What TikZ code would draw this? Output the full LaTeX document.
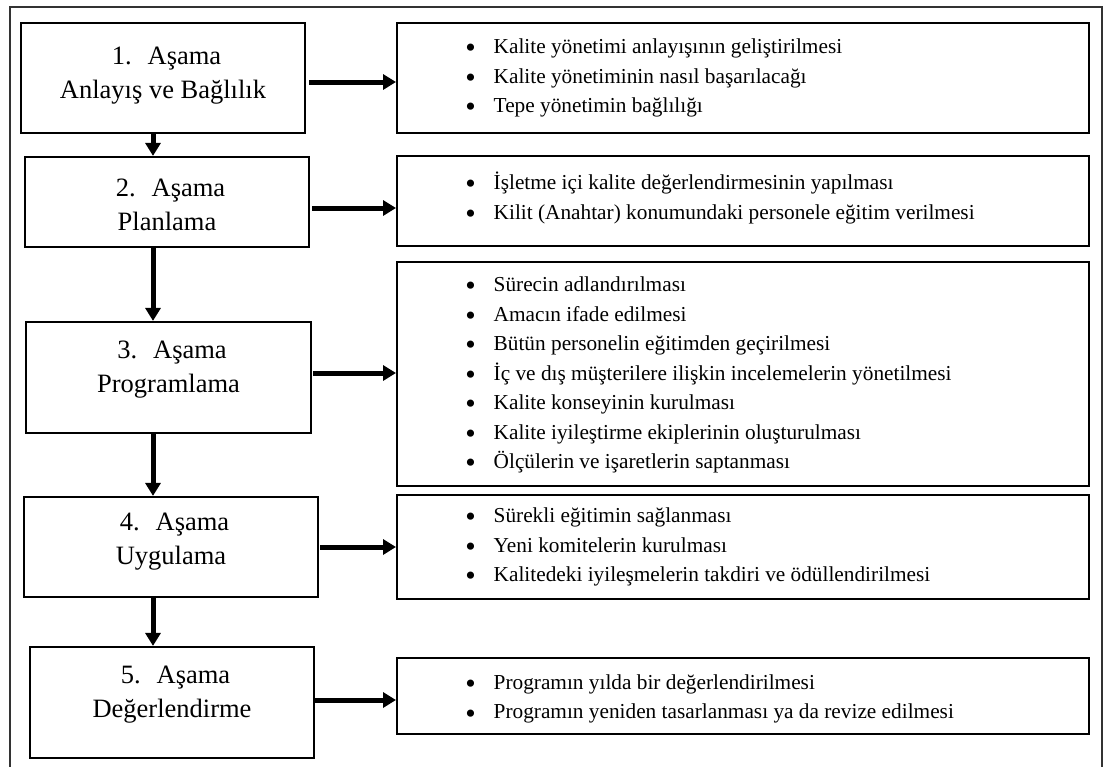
\documentclass[tikz,border=0pt]{standalone}
\usepackage{fontspec}
\setmainfont{Liberation Serif}
\usetikzlibrary{arrows.meta}
% list bullet: a slightly enlarged round dot followed by the text indent
\newcommand\itemdot{\makebox[27.5pt][l]{\hspace*{-0.8pt}\raisebox{-4.2pt}{\scalebox{1.4}{•}}}}
\begin{document}
\begin{tikzpicture}[x=1pt,y=-1pt,
  stagebox/.style={draw, line width=2.2pt, inner sep=0pt},
  stagetext/.style={align=center, inner sep=0pt,
    font=\fontsize{26.5}{34}\selectfont},
  listbox/.style={draw, line width=2pt, inner sep=0pt,
    minimum width=692pt},
  listtext/.style={align=left, anchor=west, inner sep=0pt,
    font=\fontsize{21.3}{29.5}\selectfont},
  flow/.style={line width=5pt, -{Triangle[length=13pt,width=15pt]}},
  frame/.style={draw=black!80, line width=1.5pt}]
\useasboundingbox (0,0) rectangle (1105,766);
\clip (0,0) rectangle (1105,766);
\fill[white] (0,0) rectangle (1105,766);

% outer frame (its lower edge runs past the page)
\draw[frame] (10,7) rectangle (1102,775);

% stage boxes
\node[stagebox, minimum width=284pt, minimum height=110pt] (b1) at (163,78) {};
\node[stagebox, minimum width=284pt, minimum height=90pt]  (b2) at (167,202) {};
\node[stagebox, minimum width=285pt, minimum height=111pt] (b3) at (168.5,377.5) {};
\node[stagebox, minimum width=294pt, minimum height=100pt] (b4) at (171,547) {};
\node[stagebox, minimum width=284pt, minimum height=111pt] (b5) at (172,702.5) {};

\node[stagetext] (t1) at ([yshift=2pt]b1.center) {\hspace*{7pt}1.\hspace{16pt}Aşama\\Anlayış ve Bağlılık};
\node[stagetext] (t2) at ([yshift=-3pt]b2.center) {\hspace*{7pt}2.\hspace{16pt}Aşama\\Planlama};
\node[stagetext] (t3) at ([yshift=8pt]b3.center) {\hspace*{7pt}3.\hspace{16pt}Aşama\\Programlama};
\node[stagetext] (t4) at ([yshift=5pt]b4.center) {\hspace*{7pt}4.\hspace{16pt}Aşama\\Uygulama};
\node[stagetext] (t5) at ([yshift=8pt]b5.center) {\hspace*{7pt}5.\hspace{16pt}Aşama\\Değerlendirme};

% activity boxes
\node[listbox, minimum height=110pt] (r1) at (743,78) {};
\node[listbox, minimum height=90pt]  (r2) at (743,201) {};
\node[listbox, minimum height=224pt] (r3) at (743,374) {};
\node[listbox, minimum height=104pt] (r4) at (743,547) {};
\node[listbox, minimum height=76pt]  (r5) at (743,696) {};

\node[listtext] (l1) at ([xshift=70pt]r1.west) {%
  \itemdot Kalite yönetimi anlayışının geliştirilmesi\\
  \itemdot Kalite yönetiminin nasıl başarılacağı\\
  \itemdot Tepe yönetimin bağlılığı};
\node[listtext] (l2) at ([xshift=70pt,yshift=3pt]r2.west) {%
  \itemdot İşletme içi kalite değerlendirmesinin yapılması\\
  \itemdot Kilit (Anahtar) konumundaki personele eğitim verilmesi};
\node[listtext] (l3) at ([xshift=70pt,yshift=-1pt]r3.west) {%
  \itemdot Sürecin adlandırılması\\
  \itemdot Amacın ifade edilmesi\\
  \itemdot Bütün personelin eğitimden geçirilmesi\\
  \itemdot İç ve dış müşterilere ilişkin incelemelerin yönetilmesi\\
  \itemdot Kalite konseyinin kurulması\\
  \itemdot Kalite iyileştirme ekiplerinin oluşturulması\\
  \itemdot Ölçülerin ve işaretlerin saptanması};
\node[listtext] (l4) at ([xshift=70pt]r4.west) {%
  \itemdot Sürekli eğitimin sağlanması\\
  \itemdot Yeni komitelerin kurulması\\
  \itemdot Kalitedeki iyileşmelerin takdiri ve ödüllendirilmesi};
\node[listtext] (l5) at ([xshift=70pt,yshift=-3pt]r5.west) {%
  \itemdot Programın yılda bir değerlendirilmesi\\
  \itemdot Programın yeniden tasarlanması ya da revize edilmesi};

% vertical flow between stages
\coordinate (spine) at (153,0);
\draw[flow] (b1.south -| spine) -- (b2.north -| spine);
\draw[flow] (b2.south -| spine) -- (b3.north -| spine);
\draw[flow] (b3.south -| spine) -- (b4.north -| spine);
\draw[flow] (b4.south -| spine) -- (b5.north -| spine);

% stage to activities
\draw[flow, shorten <=3pt] ([yshift=-4pt]b1.east) -- ([yshift=-4pt]b1.east -| r1.west);
\draw[flow, shorten <=2pt] ([yshift=-6pt]b2.east) -- ([yshift=-6pt]b2.east -| r2.west);
\draw[flow, shorten <=1pt] ([yshift=4.5pt]b3.east) -- ([yshift=4.5pt]b3.east -| r3.west);
\draw[flow, shorten <=1pt] (b4.east) -- (b4.east -| r4.west);
\draw[flow] ([yshift=2.5pt]b5.east) -- ([yshift=2.5pt]b5.east -| r5.west);
\end{tikzpicture}
\end{document}
